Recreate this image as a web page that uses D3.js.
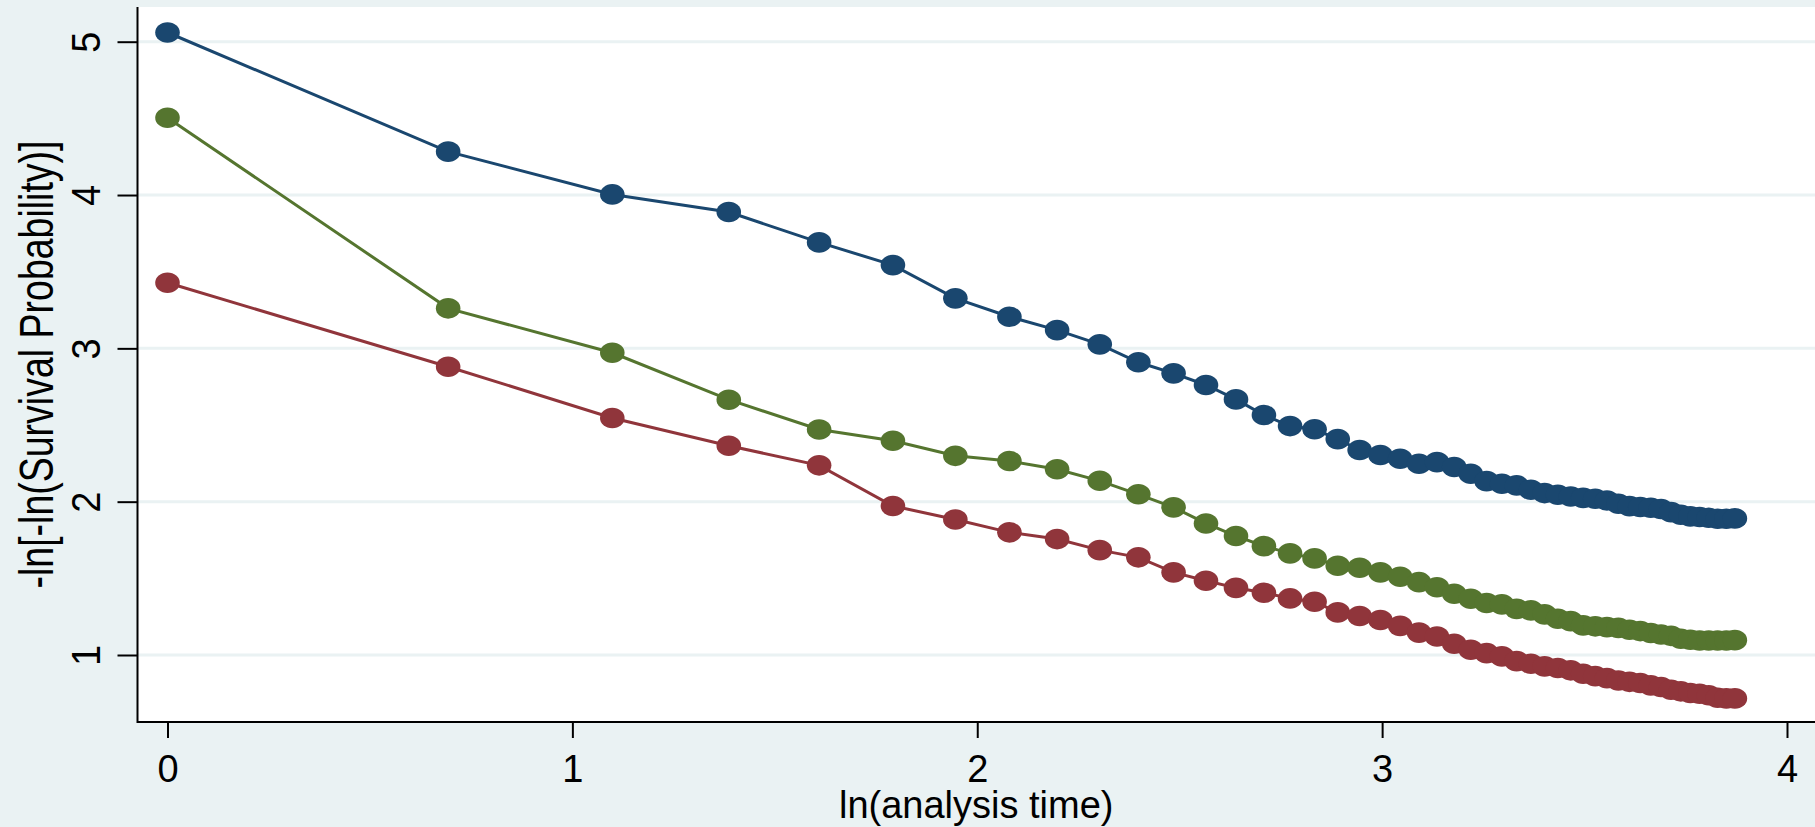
<!DOCTYPE html>
<html>
<head>
<meta charset="utf-8">
<script src="https://cdn.jsdelivr.net/npm/d3@7"></script>
<style>
  html, body { margin: 0; padding: 0; background: #eaf2f3; }
  svg { display: block; }
  .axis text { font-family: "Liberation Sans", Arial, sans-serif; font-size: 38px; fill: #000; }
  .axis path, .axis line { stroke: #000; stroke-width: 2; }
</style>
</head>
<body>
<div id="chart"></div>
<script>

//Analysis time (x axis shows ln of it)
var times = [1, 2, 3, 4, 5, 6, 7, 8, 9, 10, 11, 12, 13, 14, 15, 16,
  17, 18, 19, 20, 21, 22, 23, 24, 25, 26, 27, 28, 29, 30, 31, 32,
  33, 34, 35, 36, 37, 38, 39, 40, 41, 42, 43, 44, 45, 46, 47, 48];

//-ln[-ln(S)] per group
var blueValues = [5.06, 4.283, 4.004, 3.889, 3.691, 3.543, 3.326, 3.206, 3.119, 3.026, 2.909, 2.837,
  2.761, 2.667, 2.565, 2.493, 2.472, 2.408, 2.337, 2.304, 2.280, 2.247, 2.258, 2.226,
  2.182, 2.134, 2.117, 2.106, 2.078, 2.056, 2.045, 2.034, 2.025, 2.019, 2.008, 1.986,
  1.971, 1.965, 1.960, 1.952, 1.932, 1.915, 1.904, 1.900, 1.895, 1.889, 1.889, 1.891];

var greenValues = [4.504, 3.261, 2.971, 2.665, 2.471, 2.397, 2.299, 2.265, 2.211, 2.136, 2.048, 1.963,
  1.858, 1.776, 1.710, 1.663, 1.630, 1.582, 1.569, 1.539, 1.510, 1.475, 1.442, 1.399,
  1.367, 1.339, 1.330, 1.301, 1.291, 1.265, 1.236, 1.221, 1.193, 1.187, 1.182, 1.177,
  1.165, 1.156, 1.143, 1.134, 1.125, 1.106, 1.099, 1.095, 1.095, 1.095, 1.095, 1.097];

var redValues = [3.428, 2.880, 2.546, 2.365, 2.237, 1.972, 1.884, 1.800, 1.756, 1.684, 1.637, 1.539,
  1.484, 1.438, 1.406, 1.369, 1.347, 1.278, 1.254, 1.228, 1.190, 1.146, 1.121, 1.073,
  1.034, 1.012, 0.991, 0.960, 0.943, 0.926, 0.915, 0.900, 0.878, 0.862, 0.849, 0.834,
  0.825, 0.817, 0.802, 0.791, 0.773, 0.763, 0.752, 0.747, 0.737, 0.721, 0.717, 0.717];

var seriesColors = ["#1a476f", "#55752f", "#90353b"];

var xTicks = [0, 1, 2, 3, 4];
var yTicks = [1, 2, 3, 4, 5];

//Width and height
var w = 1815;
var h = 827;

//Plot region
var plotLeft = 137.5;
var plotTop = 7;
var plotBottom = 722;

//Scales
var xScale = d3.scaleLinear()
  .domain([0, 4])
  .range([167.5, 1787]);

var yScale = d3.scaleLinear()
  .domain([1, 5])
  .range([655, 41.7]);

var series = [blueValues, greenValues, redValues].map(function(vals, i) {
  return {
    color: seriesColors[i],
    points: times.map(function(t, j) {
      return { x: Math.log(t), y: vals[j] };
    })
  };
});

//Create SVG element
var svg = d3.select("#chart")
  .append("svg")
  .attr("width", w)
  .attr("height", h);

svg.append("rect")
  .attr("width", w)
  .attr("height", h)
  .attr("fill", "#eaf2f3");

svg.append("rect")
  .attr("x", plotLeft)
  .attr("y", plotTop)
  .attr("width", w - plotLeft)
  .attr("height", plotBottom - plotTop)
  .attr("fill", "#fff");

//Grid lines
svg.append("g")
  .selectAll("line")
  .data(yTicks)
  .enter()
  .append("line")
  .attr("x1", plotLeft)
  .attr("x2", w)
  .attr("y1", function(d) { return yScale(d); })
  .attr("y2", function(d) { return yScale(d); })
  .attr("stroke", "#eaf2f3")
  .attr("stroke-width", 3);

//Lines and markers
var line = d3.line()
  .x(function(d) { return xScale(d.x); })
  .y(function(d) { return yScale(d.y); });

var groups = svg.selectAll("g.series")
  .data(series)
  .enter()
  .append("g")
  .attr("class", "series");

groups.append("path")
  .attr("d", function(d) { return line(d.points); })
  .attr("fill", "none")
  .attr("stroke", function(d) { return d.color; })
  .attr("stroke-width", 3);

groups.selectAll("ellipse")
  .data(function(d) { return d.points.map(function(p) { return { p: p, color: d.color }; }); })
  .enter()
  .append("ellipse")
  .attr("cx", function(d) { return xScale(d.p.x); })
  .attr("cy", function(d) { return yScale(d.p.y); })
  .attr("rx", 12.3)
  .attr("ry", 10.3)
  .attr("fill", function(d) { return d.color; });

//Axes
var xAxis = d3.axisBottom(xScale)
  .tickValues(xTicks)
  .tickFormat(d3.format("d"))
  .tickSize(16)
  .tickSizeOuter(0);

var yAxis = d3.axisLeft(yScale)
  .tickValues(yTicks)
  .tickFormat(d3.format("d"))
  .tickSize(20)
  .tickSizeOuter(0);

var gx = svg.append("g")
  .attr("class", "axis x")
  .attr("transform", "translate(0," + plotBottom + ")")
  .call(xAxis);

gx.select(".domain").remove();
gx.append("line")
  .attr("x1", plotLeft)
  .attr("x2", w)
  .attr("stroke", "#000")
  .attr("stroke-width", 2);

gx.selectAll(".tick text")
  .attr("y", 60)
  .attr("dy", 0);

var gy = svg.append("g")
  .attr("class", "axis y")
  .attr("transform", "translate(" + plotLeft + ",0)")
  .call(yAxis);

gy.select(".domain").remove();
gy.append("line")
  .attr("y1", plotTop)
  .attr("y2", plotBottom + 1)
  .attr("stroke", "#000")
  .attr("stroke-width", 2);

gy.selectAll(".tick text")
  .attr("transform", "rotate(-90) scale(1, 1.05)")
  .attr("x", 0)
  .attr("y", -36)
  .attr("dy", 0)
  .attr("text-anchor", "middle");

//Axis titles
svg.append("text")
  .attr("x", (plotLeft + w) / 2)
  .attr("y", 818)
  .attr("text-anchor", "middle")
  .style("font-family", "'Liberation Sans', Arial, sans-serif")
  .style("font-size", "38px")
  .text("ln(analysis time)");

svg.append("text")
  .attr("transform", "translate(53," + ((plotTop + plotBottom) / 2) + ") rotate(-90) scale(1, 1.3)")
  .attr("text-anchor", "middle")
  .style("font-family", "'Liberation Sans', Arial, sans-serif")
  .style("font-size", "37.5px")
  .text("-ln[-ln(Survival Probability)]");

</script>
</body>
</html>
